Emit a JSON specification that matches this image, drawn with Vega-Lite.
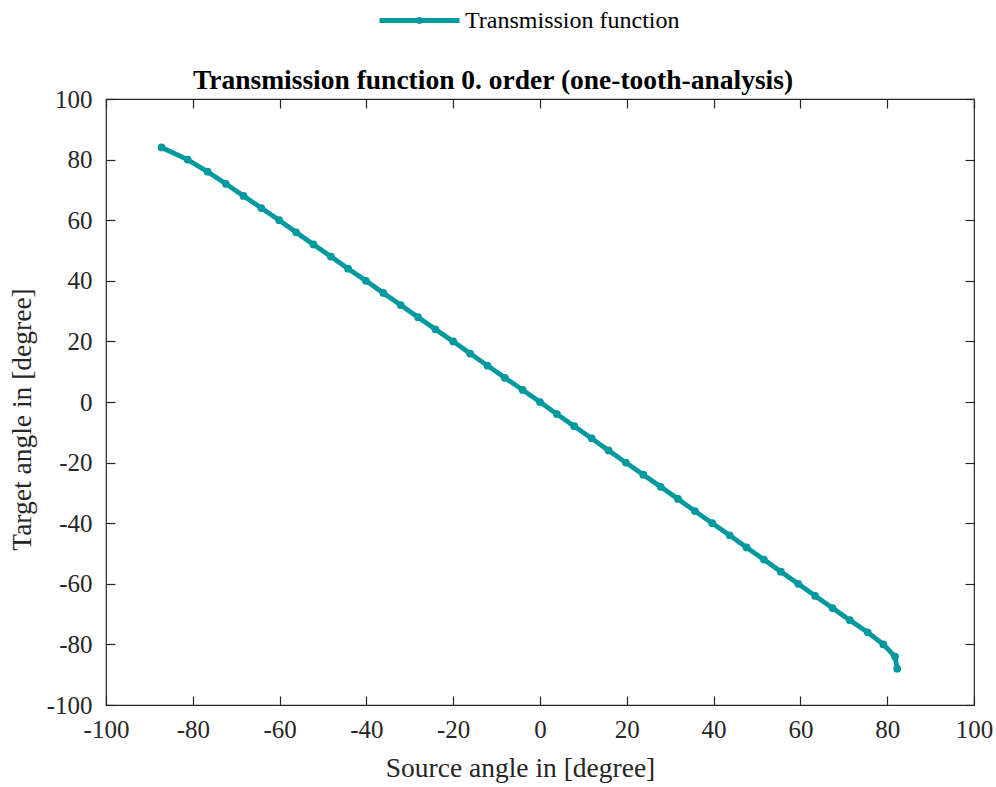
{
  "$schema": "https://vega.github.io/schema/vega-lite/v6.json",
  "width": 868,
  "height": 606,
  "autosize": {"type": "none"},
  "padding": {"left": 106, "top": 99, "right": 22, "bottom": 82},
  "background": "white",
  "config": {
    "font": "Liberation Serif",
    "view": {"stroke": "#262626", "strokeWidth": 1.2},
    "axis": {
      "grid": false,
      "domain": false,
      "labelFont": "Liberation Serif",
      "titleFont": "Liberation Serif",
      "labelFontSize": 25,
      "titleFontSize": 27.5,
      "titleFontWeight": "normal",
      "labelColor": "#262626",
      "titleColor": "#262626",
      "tickColor": "#262626",
      "tickWidth": 1.2,
      "tickSize": -9,
      "labelFlush": false,
      "labelOverlap": false,
      "labelExpr": "'' + datum.value"
    }
  },
  "title": {
    "text": "Transmission function 0. order (one-tooth-analysis)",
    "font": "Liberation Serif",
    "fontSize": 27.5,
    "fontWeight": "bold",
    "color": "black",
    "frame": "group",
    "anchor": "middle",
    "dx": -47,
    "offset": -86
  },
  "data": {
    "values": [
      {"source": -87.2, "target": 84, "series": "Transmission function"},
      {"source": -81.2, "target": 80, "series": "Transmission function"},
      {"source": -76.6, "target": 76, "series": "Transmission function"},
      {"source": -72.4, "target": 72, "series": "Transmission function"},
      {"source": -68.3, "target": 68, "series": "Transmission function"},
      {"source": -64.2, "target": 64, "series": "Transmission function"},
      {"source": -60.1, "target": 60, "series": "Transmission function"},
      {"source": -56.2, "target": 56, "series": "Transmission function"},
      {"source": -52.2, "target": 52, "series": "Transmission function"},
      {"source": -48.2, "target": 48, "series": "Transmission function"},
      {"source": -44.2, "target": 44, "series": "Transmission function"},
      {"source": -40.1, "target": 40, "series": "Transmission function"},
      {"source": -36.1, "target": 36, "series": "Transmission function"},
      {"source": -32.1, "target": 32, "series": "Transmission function"},
      {"source": -28.1, "target": 28, "series": "Transmission function"},
      {"source": -24.1, "target": 24, "series": "Transmission function"},
      {"source": -20.0, "target": 20, "series": "Transmission function"},
      {"source": -16.1, "target": 16, "series": "Transmission function"},
      {"source": -12.1, "target": 12, "series": "Transmission function"},
      {"source": -8.1, "target": 8, "series": "Transmission function"},
      {"source": -4.0, "target": 4, "series": "Transmission function"},
      {"source": 0.0, "target": 0, "series": "Transmission function"},
      {"source": 3.9, "target": -4, "series": "Transmission function"},
      {"source": 7.9, "target": -8, "series": "Transmission function"},
      {"source": 11.9, "target": -12, "series": "Transmission function"},
      {"source": 15.8, "target": -16, "series": "Transmission function"},
      {"source": 19.8, "target": -20, "series": "Transmission function"},
      {"source": 23.8, "target": -24, "series": "Transmission function"},
      {"source": 27.8, "target": -28, "series": "Transmission function"},
      {"source": 31.8, "target": -32, "series": "Transmission function"},
      {"source": 35.7, "target": -36, "series": "Transmission function"},
      {"source": 39.7, "target": -40, "series": "Transmission function"},
      {"source": 43.7, "target": -44, "series": "Transmission function"},
      {"source": 47.6, "target": -48, "series": "Transmission function"},
      {"source": 51.6, "target": -52, "series": "Transmission function"},
      {"source": 55.5, "target": -56, "series": "Transmission function"},
      {"source": 59.5, "target": -60, "series": "Transmission function"},
      {"source": 63.4, "target": -64, "series": "Transmission function"},
      {"source": 67.4, "target": -68, "series": "Transmission function"},
      {"source": 71.4, "target": -72, "series": "Transmission function"},
      {"source": 75.5, "target": -76, "series": "Transmission function"},
      {"source": 79.1, "target": -80, "series": "Transmission function"},
      {"source": 81.8, "target": -84, "series": "Transmission function"},
      {"source": 82.3, "target": -88, "series": "Transmission function"}
    ]
  },
  "layer": [
    {
      "mark": {"type": "line", "strokeWidth": 4.8, "point": {"filled": true, "size": 60}},
      "encoding": {
        "x": {
          "field": "source", "type": "quantitative",
          "scale": {"domain": [-100, 100], "nice": false},
          "axis": {"values": [-100, -80, -60, -40, -20, 0, 20, 40, 60, 80, 100], "title": "Source angle in [degree]", "labelPadding": 21, "titlePadding": 12, "titleX": 414}
        },
        "y": {
          "field": "target", "type": "quantitative",
          "scale": {"domain": [-100, 100], "nice": false},
          "axis": {"values": [-100, -80, -60, -40, -20, 0, 20, 40, 60, 80, 100], "title": "Target angle in [degree]", "labelPadding": 23, "titlePadding": 10, "titleY": 320}
        },
        "color": {
          "field": "series", "type": "nominal",
          "scale": {"range": ["#00999e"]},
          "legend": {
            "title": null,
            "orient": "none",
            "legendX": 301,
            "legendY": -91,
            "symbolType": "M-4,0H4M-0.12,0a0.12,0.12 0 1,0 0.24,0a0.12,0.12 0 1,0 -0.24,0",
            "symbolSize": 400,
            "symbolStrokeWidth": 4.8,
            "symbolFillColor": "#00999e",
            "symbolStrokeColor": "#00999e",
            "labelFont": "Liberation Serif",
            "labelFontSize": 24,
            "labelColor": "black",
            "labelOffset": 33,
            "labelLimit": 0
          }
        }
      }
    },
    {
      "mark": {"type": "point", "opacity": 0},
      "encoding": {
        "x": {"field": "source", "type": "quantitative", "axis": {"orient": "top", "labels": false, "title": null, "values": [-100, -80, -60, -40, -20, 0, 20, 40, 60, 80, 100]}},
        "y": {"field": "target", "type": "quantitative", "axis": {"orient": "right", "labels": false, "title": null, "values": [-100, -80, -60, -40, -20, 0, 20, 40, 60, 80, 100]}}
      }
    }
  ],
  "resolve": {"axis": {"x": "independent", "y": "independent"}}
}
